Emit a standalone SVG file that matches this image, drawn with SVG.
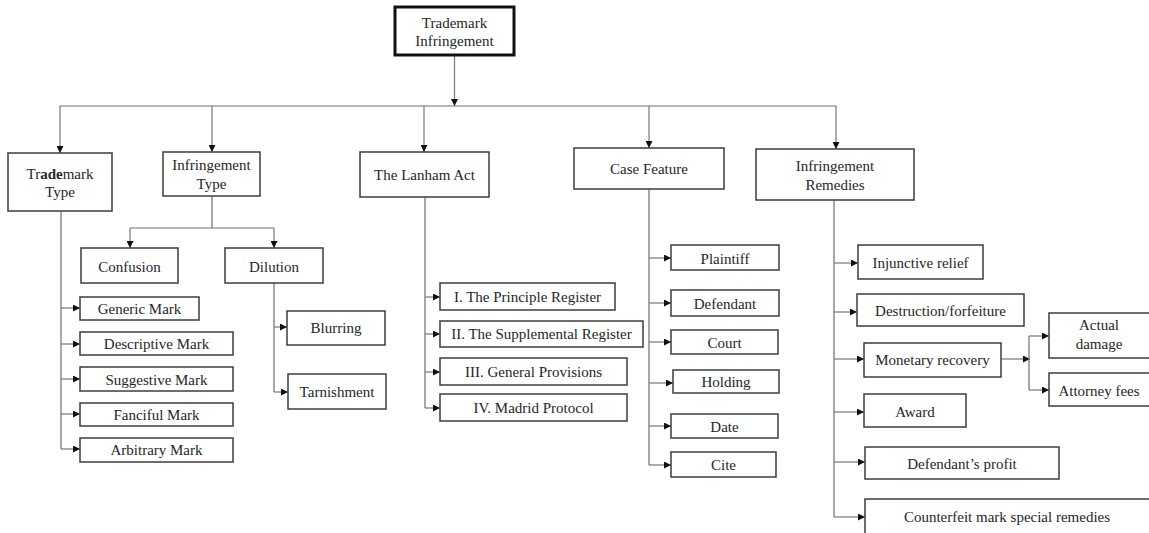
<svg xmlns="http://www.w3.org/2000/svg" width="1149" height="533" viewBox="0 0 1149 533">
<style>
  .box{fill:#fff;stroke:#3c3c3c;stroke-width:1.5}
  .root{fill:#fff;stroke:#111;stroke-width:3}
  text{font-family:"Liberation Serif","Times New Roman",serif;font-size:15px;fill:#262626;text-anchor:middle}
  .c{fill:none;stroke:#6e6e6e;stroke-width:1.2}
  .m{fill:none;stroke:#777;stroke-width:1.2;marker-end:url(#ah)}
</style>
<defs>
  <marker id="ah" markerUnits="userSpaceOnUse" markerWidth="7" markerHeight="7" refX="7" refY="3.5" orient="auto">
    <path d="M0,0 L7,3.5 L0,7 z" fill="#111"/>
  </marker>
</defs>
<rect width="1149" height="533" fill="#fff"/>
<g id="connectors">
  <path class="m" d="M454.5,55 V106"/>
  <path class="c" d="M60,106 H836"/>
  <path class="m" d="M60,106 V153"/>
  <path class="m" d="M212,106 V152"/>
  <path class="m" d="M424,106 V152"/>
  <path class="m" d="M649,106 V148"/>
  <path class="m" d="M836,106 V149"/>
  <!-- Trademark Type -->
  <path class="c" d="M61,211 V449"/>
  <path class="m" d="M61,308 H80"/>
  <path class="m" d="M61,344 H80"/>
  <path class="m" d="M61,379 H80"/>
  <path class="m" d="M61,414 H80"/>
  <path class="m" d="M61,449 H80"/>
  <!-- Infringement Type -->
  <path class="c" d="M212,196 V228 M130,228 H274"/>
  <path class="m" d="M130,228 V248"/>
  <path class="m" d="M274,228 V248"/>
  <path class="c" d="M274,283 V392"/>
  <path class="m" d="M274,327 H287"/>
  <path class="m" d="M274,392 H288"/>
  <!-- Lanham -->
  <path class="c" d="M425,197 V408"/>
  <path class="m" d="M425,297 H440"/>
  <path class="m" d="M425,334 H440"/>
  <path class="m" d="M425,372 H440"/>
  <path class="m" d="M425,408 H440"/>
  <!-- Case Feature -->
  <path class="c" d="M649,189 V465"/>
  <path class="m" d="M649,258 H671"/>
  <path class="m" d="M649,303 H671"/>
  <path class="m" d="M649,342 H671"/>
  <path class="m" d="M649,383 H673"/>
  <path class="m" d="M649,426 H671"/>
  <path class="m" d="M649,465 H671"/>
  <!-- Remedies -->
  <path class="c" d="M834,200 V517"/>
  <path class="m" d="M834,263 H858"/>
  <path class="m" d="M834,312 H857"/>
  <path class="m" d="M834,359 H864"/>
  <path class="m" d="M834,412 H864"/>
  <path class="m" d="M834,462 H865"/>
  <path class="m" d="M834,517 H865"/>
  <path class="m" d="M1001,359 H1030"/>
  <path class="c" d="M1029,336 V390"/>
  <path class="m" d="M1029,336 H1049"/>
  <path class="m" d="M1029,390 H1049"/>
</g>
<g id="root"><rect class="root" x="395" y="7" width="119" height="48"/><text x="454.5" y="28">Trademark</text><text x="454.5" y="46">Infringement</text></g>
<g id="trademark-type"><rect class="box" x="8" y="153" width="104" height="58"/><text x="60" y="179">Tr<tspan font-weight="bold">ade</tspan>mark</text><text x="60" y="197">Type</text></g>
<g id="infringement-type"><rect class="box" x="163" y="152" width="97" height="44"/><text x="211.5" y="170">Infringement</text><text x="211.5" y="189">Type</text></g>
<g id="lanham"><rect class="box" x="360" y="152" width="129" height="45"/><text x="424.5" y="180">The Lanham Act</text></g>
<g id="case-feature"><rect class="box" x="574" y="148" width="150" height="41"/><text x="649" y="174">Case Feature</text></g>
<g id="remedies"><rect class="box" x="756" y="149" width="158" height="51"/><text x="835" y="171">Infringement</text><text x="835" y="190">Remedies</text></g>
<g id="confusion"><rect class="box" x="81" y="248" width="97" height="35"/><text x="129.5" y="272">Confusion</text></g>
<g id="dilution"><rect class="box" x="225" y="248" width="98" height="35"/><text x="274" y="272">Dilution</text></g>
<g id="blurring"><rect class="box" x="287" y="311" width="98" height="34"/><text x="336" y="333">Blurring</text></g>
<g id="tarnishment"><rect class="box" x="288" y="374" width="98" height="35"/><text x="337" y="397">Tarnishment</text></g>
<g id="generic"><rect class="box" x="80" y="297" width="119" height="23"/><text x="139.5" y="314">Generic Mark</text></g>
<g id="descriptive"><rect class="box" x="80" y="332" width="153" height="23"/><text x="156.5" y="349">Descriptive Mark</text></g>
<g id="suggestive"><rect class="box" x="80" y="367" width="153" height="24"/><text x="156.5" y="385">Suggestive Mark</text></g>
<g id="fanciful"><rect class="box" x="80" y="403" width="153" height="23"/><text x="156.5" y="420">Fanciful Mark</text></g>
<g id="arbitrary"><rect class="box" x="80" y="438" width="153" height="24"/><text x="156.5" y="455">Arbitrary Mark</text></g>
<g id="lanham-1"><rect class="box" x="440" y="283" width="175" height="27"/><text x="527.5" y="302">I. The Principle Register</text></g>
<g id="lanham-2"><rect class="box" x="440" y="321" width="203" height="26"/><text x="541.5" y="339">II. The Supplemental Register</text></g>
<g id="lanham-3"><rect class="box" x="440" y="358" width="187" height="27"/><text x="533.5" y="377">III. General Provisions</text></g>
<g id="lanham-4"><rect class="box" x="440" y="394" width="187" height="27"/><text x="533.5" y="413">IV. Madrid Protocol</text></g>
<g id="plaintiff"><rect class="box" x="671" y="245" width="108" height="25"/><text x="725" y="264">Plaintiff</text></g>
<g id="defendant"><rect class="box" x="671" y="290" width="108" height="26"/><text x="725" y="309">Defendant</text></g>
<g id="court"><rect class="box" x="671" y="330" width="107" height="24"/><text x="724.5" y="348">Court</text></g>
<g id="holding"><rect class="box" x="673" y="370" width="106" height="23"/><text x="726" y="387">Holding</text></g>
<g id="date"><rect class="box" x="671" y="414" width="107" height="24"/><text x="724.5" y="432">Date</text></g>
<g id="cite"><rect class="box" x="671" y="452" width="105" height="25"/><text x="723.5" y="470">Cite</text></g>
<g id="injunctive"><rect class="box" x="858" y="245" width="125" height="34"/><text x="920.5" y="268">Injunctive relief</text></g>
<g id="destruction"><rect class="box" x="857" y="294" width="167" height="32"/><text x="940.5" y="316">Destruction/forfeiture</text></g>
<g id="monetary"><rect class="box" x="864" y="343" width="137" height="34"/><text x="932.5" y="365">Monetary recovery</text></g>
<g id="actual"><rect class="box" x="1049" y="313" width="102" height="45"/><text x="1099" y="330">Actual</text><text x="1099" y="349">damage</text></g>
<g id="attorney"><rect class="box" x="1049" y="373" width="102" height="33"/><text x="1099" y="396">Attorney fees</text></g>
<g id="award"><rect class="box" x="864" y="394" width="102" height="33"/><text x="915" y="417">Award</text></g>
<g id="defendant-profit"><rect class="box" x="865" y="447" width="194" height="32"/><text x="962" y="469">Defendant’s profit</text></g>
<g id="counterfeit"><rect class="box" x="865" y="499" width="286" height="40"/><text x="1007" y="522">Counterfeit mark special remedies</text></g>
</svg>
